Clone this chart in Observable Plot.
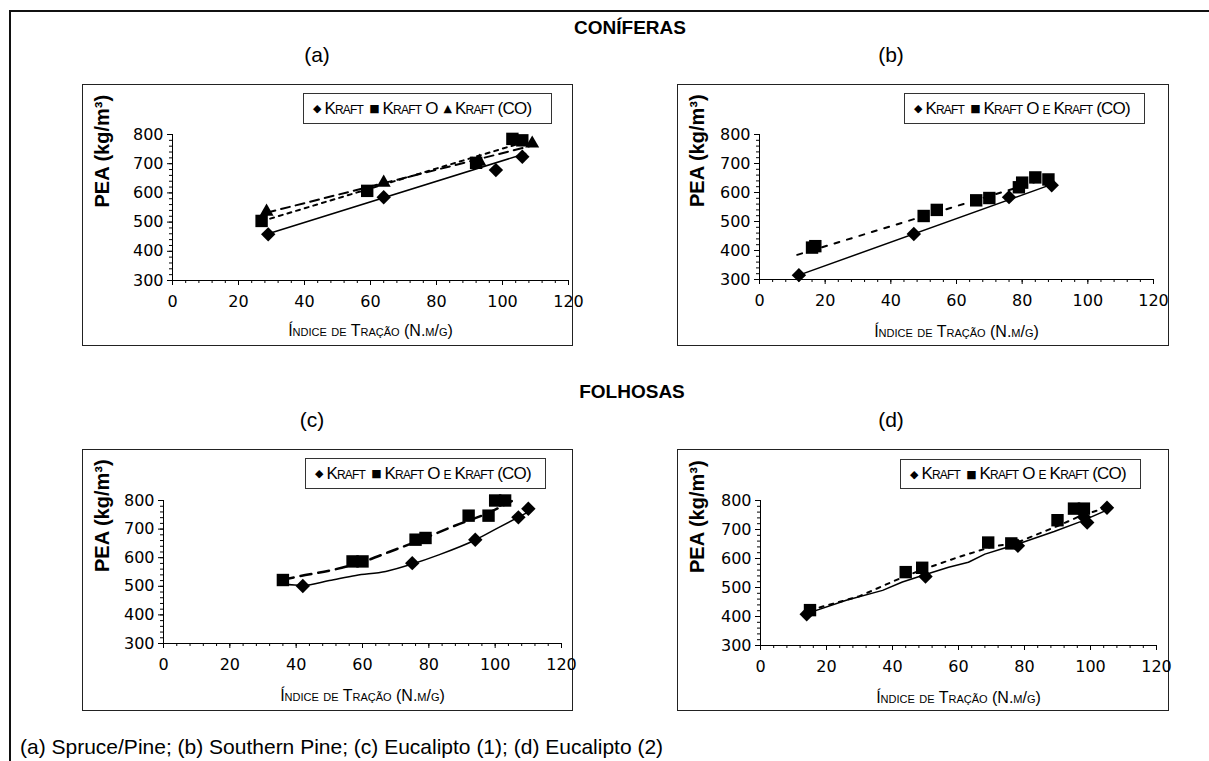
<!DOCTYPE html>
<html><head><meta charset="utf-8">
<script src="https://cdn.jsdelivr.net/npm/d3@7"></script>
<script src="https://cdn.jsdelivr.net/npm/@observablehq/plot@0.6"></script>
<style>
body{margin:0;background:#fff;}
#root{position:relative;width:1209px;height:761px;overflow:hidden;background:#fff;font-family:"Liberation Sans",Arial,sans-serif;color:#000;}
.abs{position:absolute;white-space:nowrap;}
.ctr{transform:translate(-50%,-50%);}
.box{position:absolute;border:1.5px solid #222;box-sizing:border-box;pointer-events:none;}
.legend{position:absolute;border:1px solid #333;box-sizing:border-box;display:flex;align-items:center;padding-left:9px;font-variant:small-caps;font-size:17px;letter-spacing:-0.8px;white-space:nowrap;background:#fff;}
.sym{font-family:"DejaVu Sans";font-size:11px;letter-spacing:0;margin-right:3px;}
.item{margin-right:6px;}
</style></head>
<body><div id="root"></div>
<script>
// ---------- texts ----------
const groupTitles = ["CONÍFERAS", "FOLHOSAS"];
const panelTitles = ["(a)", "(b)", "(c)", "(d)"];
const seriesNamesA = ["Kraft", "Kraft O", "Kraft (CO)"];
const seriesNamesBCD = ["Kraft", "Kraft O e Kraft (CO)"];
const xTitle = "Índice de Tração (N.m/g)";
const yTitle = "PEA (kg/m³)";
const caption = "(a) Spruce/Pine; (b) Southern Pine; (c) Eucalipto (1); (d) Eucalipto (2)";

// ---------- ticks ----------
const xTicks = [0, 20, 40, 60, 80, 100, 120];
const yTicks = [300, 400, 500, 600, 700, 800];

// ---------- (a) Spruce/Pine ----------
const aKraftX = [29, 64, 98, 106];
const aKraftY = [458, 585, 678, 724];
const aKraftOX = [27, 59, 92, 103, 106];
const aKraftOY = [504, 607, 703, 785, 780];
const aKraftCOX = [28.5, 64, 93, 109];
const aKraftCOY = [536, 635, 707, 769];
const aKraftTrendX = [29, 107];
const aKraftTrendY = [460, 735];
const aKraftOTrendX = [27, 106];
const aKraftOTrendY = [503, 772];
const aKraftCOTrendX = [28.5, 109];
const aKraftCOTrendY = [532, 762];

// ---------- (b) Southern Pine ----------
const bKraftX = [12, 47, 76, 89];
const bKraftY = [315, 457, 584, 625];
const bKraftOX = [16, 17, 50, 54, 66, 70, 79, 80, 84, 88];
const bKraftOY = [410, 415, 519, 540, 573, 581, 618, 634, 652, 645];
const bKraftTrendX = [12, 89];
const bKraftTrendY = [315, 628];
const bKraftOTrendX = [11.5, 88];
const bKraftOTrendY = [385, 650];

// ---------- (c) Eucalipto (1) ----------
const cKraftX = [42, 75, 94, 107, 110];
const cKraftY = [501, 581, 663, 741, 771];
const cKraftOX = [36, 57, 60, 76, 79, 92, 98, 100, 103];
const cKraftOY = [522, 587, 587, 663, 669, 747, 747, 800, 800];
const cKraftTrendX = [36, 42, 50, 58, 67, 75, 83, 94, 101, 110];
const cKraftTrendY = [508, 503, 520, 538, 552, 578, 610, 662, 705, 760];
const cKraftOTrendX = [36, 41, 52, 60, 68, 77, 87, 98, 105];
const cKraftOTrendY = [523, 535, 560, 585, 620, 660, 708, 757, 798];

// ---------- (d) Eucalipto (2) ----------
const dKraftX = [14, 50, 78, 98, 99, 105];
const dKraftY = [408, 538, 644, 743, 724, 775];
const dKraftOX = [15, 44, 49, 69, 76, 90, 95, 98];
const dKraftOY = [422, 553, 568, 655, 652, 732, 772, 772];
const dKraftTrendX = [14, 26, 37, 43, 50, 57, 63, 68, 73, 78, 89, 97, 106];
const dKraftTrendY = [410, 456, 490, 519, 545, 570, 587, 615, 633, 650, 693, 727, 772];
const dKraftOTrendX = [15, 30, 44, 50, 60, 70, 78, 90, 98, 106];
const dKraftOTrendY = [422, 470, 540, 565, 605, 640, 656, 712, 752, 778];

// ---------- helpers ----------
const rows = (X, Y) => X.map((x, i) => ({x, y: Y[i]}));
const xMinor = d3.range(0, 121, 4);
const yMinor = d3.range(300, 801, 20);
const root = document.getElementById("root");

function addText(txt, x, y, css, center = true) {
  const el = document.createElement("div");
  el.className = "abs" + (center ? " ctr" : "");
  el.style.left = x + "px"; el.style.top = y + "px";
  Object.assign(el.style, css);
  el.textContent = txt;
  root.appendChild(el);
  return el;
}

const SYM = {diamond2: {ch: "◆", r: 6.5}, square: {ch: "■", r: 7}, triangle: {ch: "▲", r: 5.2}};

function makePanel(p) {
  const W = p.right - p.left, H = p.bottom - p.top;
  const marks = [
    Plot.axisY({ticks: yMinor, tickSize: 3, tickFormat: () => "", label: null}),
    Plot.axisY({ticks: yTicks, tickSize: 5, tickPadding: 4, label: null}),
    Plot.axisX({ticks: xMinor, tickSize: 3, tickFormat: () => "", label: null}),
    Plot.axisX({ticks: xTicks, tickSize: 5, tickPadding: 10, label: null}),
    Plot.ruleY([300], {stroke: "#000", strokeWidth: 1}),
    Plot.ruleX([0], {stroke: "#000", strokeWidth: 1})
  ];
  for (const l of p.lines) {
    marks.push(Plot.line(rows(l.X, l.Y), {x: "x", y: "y", stroke: "#000", strokeWidth: l.w,
      strokeDasharray: l.dash, curve: l.curve || "linear"}));
  }
  for (const s of p.series) {
    marks.push(Plot.dot(rows(s.X, s.Y), {x: "x", y: "y", symbol: s.symbol, r: SYM[s.symbol].r,
      fill: "#000", stroke: null}));
  }
  marks.push(Plot.text([xTitle], {text: d => d, frameAnchor: "bottom", lineAnchor: "middle", dy: p.xTitleDy,
    fontFamily: "Liberation Sans", fontSize: 16, fontVariant: "small-caps", ariaLabel: "xtitle"}));
  marks.push(Plot.text([yTitle], {text: d => d, frameAnchor: "left", rotate: -90, dx: 20 - p.mL,
    fontFamily: "Liberation Sans", fontSize: 20, fontWeight: "bold"}));
  const svg = Plot.plot({
    width: W, height: H,
    marginLeft: p.mL, marginRight: p.mR, marginTop: p.mT, marginBottom: p.mB,
    x: {domain: [0, 120]}, y: {domain: [300, 800]},
    style: {fontFamily: "DejaVu Sans", fontSize: "16px", color: "#000", background: "transparent", overflow: "visible"},
    marks
  });
  d3.select(svg).selectAll('g[aria-label="xtitle"] text').style("letter-spacing", "-0.5px");
  const wrap = document.createElement("div");
  wrap.style.cssText = `position:absolute;left:${p.left}px;top:${p.top}px;width:${W}px;height:${H}px;overflow:visible;`;
  wrap.appendChild(svg);
  const box = document.createElement("div");
  box.className = "box";
  box.style.cssText += `left:${p.left}px;top:${p.top}px;width:${W}px;height:${H}px;background:#fff;`;
  root.appendChild(box);
  root.appendChild(wrap);
  // legend
  const lg = document.createElement("div");
  lg.className = "legend";
  lg.style.left = p.legend[0] + "px"; lg.style.top = p.legend[1] + "px";
  lg.style.width = (p.legend[2] - p.legend[0]) + "px"; lg.style.height = (p.legend[3] - p.legend[1]) + "px";
  p.series.forEach((s, i) => {
    const sp = document.createElement("span"); sp.className = "sym"; sp.textContent = SYM[s.symbol].ch;
    const t = document.createElement("span"); t.className = "item"; t.textContent = s.name;
    lg.appendChild(sp); lg.appendChild(t);
  });
  root.appendChild(lg);
}

// outer frame
const frame = document.createElement("div");
frame.style.cssText = "position:absolute;left:9px;top:10px;width:1400px;height:900px;border-left:2px solid #111;border-top:2px solid #111;";
root.appendChild(frame);

addText(groupTitles[0], 630, 28, {fontSize: "19px", fontWeight: "bold"});
addText(groupTitles[1], 632, 392, {fontSize: "19px", fontWeight: "bold"});
addText(panelTitles[0], 317, 55, {fontSize: "21px"});
addText(panelTitles[1], 891, 55, {fontSize: "21px"});
addText(panelTitles[2], 312, 420, {fontSize: "21px"});
addText(panelTitles[3], 891, 420, {fontSize: "21px"});
addText(caption, 20, 735, {fontSize: "21px"}, false);

makePanel({left: 82, top: 84, right: 573, bottom: 346, mL: 90, mR: 5, mT: 50, mB: 66, xTitleDy: 50,
  legend: [303, 93, 552, 124],
  series: [
    {name: seriesNamesA[0], X: aKraftX, Y: aKraftY, symbol: "diamond2"},
    {name: seriesNamesA[1], X: aKraftOX, Y: aKraftOY, symbol: "square"},
    {name: seriesNamesA[2], X: aKraftCOX, Y: aKraftCOY, symbol: "triangle"}],
  lines: [
    {X: aKraftTrendX, Y: aKraftTrendY, w: 1.5},
    {X: aKraftOTrendX, Y: aKraftOTrendY, w: 2, dash: "4,5"},
    {X: aKraftCOTrendX, Y: aKraftCOTrendY, w: 2, dash: "9,6"}]
});
makePanel({left: 677, top: 84, right: 1169, bottom: 346, mL: 82, mR: 16, mT: 50, mB: 67, xTitleDy: 52,
  legend: [904, 93, 1145, 124],
  series: [
    {name: seriesNamesBCD[0], X: bKraftX, Y: bKraftY, symbol: "diamond2"},
    {name: seriesNamesBCD[1], X: bKraftOX, Y: bKraftOY, symbol: "square"}],
  lines: [
    {X: bKraftTrendX, Y: bKraftTrendY, w: 1.5},
    {X: bKraftOTrendX, Y: bKraftOTrendY, w: 2, dash: "5,8"}]
});
makePanel({left: 82, top: 449, right: 573, bottom: 711, mL: 81, mR: 12, mT: 51, mB: 68, xTitleDy: 52,
  legend: [305, 458, 546, 489],
  series: [
    {name: seriesNamesBCD[0], X: cKraftX, Y: cKraftY, symbol: "diamond2"},
    {name: seriesNamesBCD[1], X: cKraftOX, Y: cKraftOY, symbol: "square"}],
  lines: [
    {X: cKraftTrendX, Y: cKraftTrendY, w: 1.5, curve: "monotone-x"},
    {X: cKraftOTrendX, Y: cKraftOTrendY, w: 2.5, dash: "11,7", curve: "monotone-x"}]
});
makePanel({left: 677, top: 449, right: 1169, bottom: 711, mL: 83, mR: 13, mT: 51, mB: 66, xTitleDy: 52,
  legend: [900, 459, 1141, 489],
  series: [
    {name: seriesNamesBCD[0], X: dKraftX, Y: dKraftY, symbol: "diamond2"},
    {name: seriesNamesBCD[1], X: dKraftOX, Y: dKraftOY, symbol: "square"}],
  lines: [
    {X: dKraftTrendX, Y: dKraftTrendY, w: 1.5},
    {X: dKraftOTrendX, Y: dKraftOTrendY, w: 2, dash: "4,6"}]
});
</script></body></html>
